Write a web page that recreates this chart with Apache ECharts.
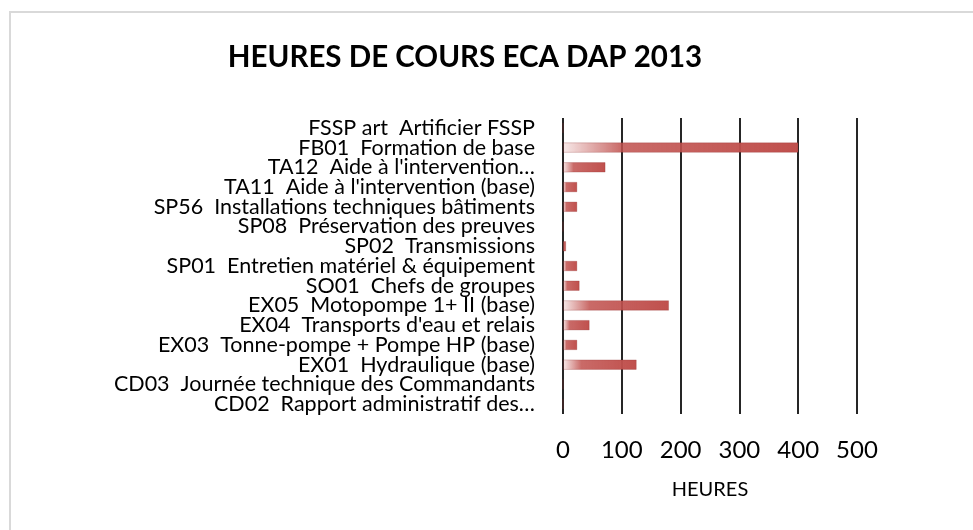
<!DOCTYPE html>
<html>
<head>
<meta charset="utf-8">
<script src="https://cdn.jsdelivr.net/npm/echarts@6/dist/echarts.min.js"></script>
<style>
    html, body { margin: 0; padding: 0; background: #fff; }
    #chart { width: 973px; height: 530px; }
</style>
</head>
<body>
<div id="chart"></div>
<script>
// heures de cours ECA DAP 2013

const categories = [
    'FSSP art  Artificier FSSP',
    'FB01  Formation de base',
    "TA12  Aide à l'intervention…",
    "TA11  Aide à l'intervention (base)",
    'SP56  Installations techniques bâtiments',
    'SP08  Préservation des preuves',
    'SP02  Transmissions',
    'SP01  Entretien matériel & équipement',
    'SO01  Chefs de groupes',
    'EX05  Motopompe 1+ II (base)',
    "EX04  Transports d'eau et relais",
    'EX03  Tonne-pompe + Pompe HP (base)',
    'EX01  Hydraulique (base)',
    'CD03  Journée technique des Commandants',
    'CD02  Rapport administratif des…'
];

const heures = [0, 400, 72, 24, 24, 0, 5, 24, 28, 180, 45, 24, 125, 0, 0];

const xTicks = [0, 100, 200, 300, 400, 500];

const chartDom = document.getElementById('chart');
let chart = echarts.init(chartDom);

let option = {
    animation: false,
    title: {
        text: 'HEURES DE COURS ECA DAP 2013',
        left: 460,
        textAlign: 'center',
        top: 37,
        textStyle: {
            fontFamily: 'Lato',
            fontWeight: 'bold',
            fontSize: 29.5,
            color: '#000'
        }
    },
    graphic: [
        {
            type: 'rect',
            shape: { x: 10, y: 12, width: 1000, height: 1000 },
            style: { fill: 'none', stroke: '#d9d9d9', lineWidth: 2 },
            silent: true
        }
    ],
    grid: {
        left: 563,
        right: 116,
        top: 118,
        bottom: 116
    },
    xAxis: {
        type: 'value',
        min: xTicks[0],
        max: xTicks[xTicks.length - 1],
        interval: 100,
        name: 'HEURES',
        nameLocation: 'middle',
        nameGap: 66,
        nameTextStyle: {
            fontFamily: 'Lato',
            fontSize: 20,
            color: '#000'
        },
        axisLine: { show: false },
        axisTick: { show: false },
        axisLabel: {
            fontFamily: 'Lato',
            fontSize: 24,
            color: '#000',
            margin: 24
        },
        splitLine: {
            lineStyle: {
                color: '#262626',
                width: 2
            }
        }
    },
    yAxis: {
        type: 'category',
        inverse: true,
        data: categories,
        axisLine: { show: false },
        axisTick: { show: false },
        axisLabel: {
            interval: 0,
            fontFamily: 'Lato',
            fontSize: 21.5,
            lineHeight: 20,
            color: '#000',
            margin: 28
        }
    },
    series: [
        {
            name: 'HEURES',
            type: 'bar',
            data: heures,
            barWidth: 10,
            itemStyle: {
                color: new echarts.graphic.LinearGradient(0, 0, 1, 0, [
                    { offset: 0, color: 'rgba(192,80,77,0.12)' },
                    { offset: 0.25, color: 'rgba(192,80,77,0.85)' },
                    { offset: 1, color: '#c0504d' }
                ]),
                borderColor: 'rgba(140,40,38,0.5)',
                borderWidth: 0.5
            }
        }
    ]
};

option && chart.setOption(option);
</script>
</body>
</html>
